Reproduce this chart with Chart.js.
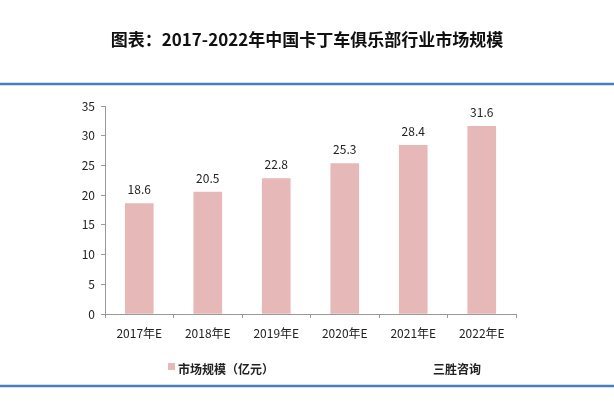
<!DOCTYPE html>
<html>
<head>
<meta charset="utf-8">
<script src="https://cdn.jsdelivr.net/npm/chart.js@4"></script>
<style>
  html, body { margin: 0; padding: 0; background: #fff; }
  #wrap { width: 614px; height: 404px; }
</style>
</head>
<body>
<div id="wrap"><canvas id="c" width="614" height="404"></canvas></div>
<script>
const years = ['2017年E', '2018年E', '2019年E', '2020年E', '2021年E', '2022年E'];
const marketSize = [18.6, 20.5, 22.8, 25.3, 28.4, 31.6];
const yTicks = [0, 5, 10, 15, 20, 25, 30, 35];

const font = '"Noto Sans CJK SC", "Microsoft YaHei", sans-serif';
const barColor = '#e6b9b8';

// 标题、蓝线、图例、来源
const decor = {
    id: 'decor',
    afterDraw(chart) {
        const ctx = chart.ctx;
        ctx.save();
        ctx.fillStyle = '#111';
        ctx.font = 'bold 17px ' + font;
        ctx.textAlign = 'center';
        ctx.textBaseline = 'middle';
        ctx.fillText('图表：2017-2022年中国卡丁车俱乐部行业市场规模', 307, 40);

        ctx.strokeStyle = '#4a7ebb';
        ctx.lineWidth = 2.5;
        ctx.beginPath(); ctx.moveTo(0, 84); ctx.lineTo(614, 84); ctx.stroke();
        ctx.beginPath(); ctx.moveTo(0, 386); ctx.lineTo(614, 386); ctx.stroke();

        ctx.fillStyle = barColor;
        ctx.fillRect(168, 363, 7, 7);
        ctx.fillStyle = '#222';
        ctx.font = 'bold 12px ' + font;
        ctx.textAlign = 'left';
        ctx.fillText('市场规模（亿元）', 178, 369);
        ctx.fillText('三胜咨询', 433, 369);

        // 数据标签
        ctx.font = '12px ' + font;
        ctx.textAlign = 'center';
        ctx.fillStyle = '#222';
        chart.getDatasetMeta(0).data.forEach((bar, i) => {
            ctx.fillText(marketSize[i].toFixed(1), bar.x, bar.y - 14);
        });
        ctx.restore();
    }
};

new Chart(document.getElementById('c'), {
    type: 'bar',
    data: {
        labels: years,
        datasets: [{
            data: marketSize,
            backgroundColor: barColor,
            barThickness: 28
        }]
    },
    options: {
        responsive: false,
        animation: false,
        layout: { padding: { top: 106, right: 98, left: 0, bottom: 0 } },
        plugins: { legend: { display: false }, tooltip: { enabled: false } },
        scales: {
            x: {
                afterFit: s => { s.height = 90; },
                grid: { drawOnChartArea: false, tickLength: 4, color: '#999' },
                border: { color: '#999' },
                ticks: { color: '#222', font: { family: font, size: 12 }, padding: 8 }
            },
            y: {
                min: 0, max: 35,
                afterFit: s => { s.width = 105; },
                afterBuildTicks: s => { s.ticks = yTicks.map(v => ({ value: v })); },
                grid: { drawOnChartArea: false, tickLength: 4, color: '#999' },
                border: { color: '#999' },
                ticks: { color: '#222', font: { family: font, size: 12 }, padding: 6 }
            }
        }
    },
    plugins: [decor]
});
</script>
</body>
</html>
